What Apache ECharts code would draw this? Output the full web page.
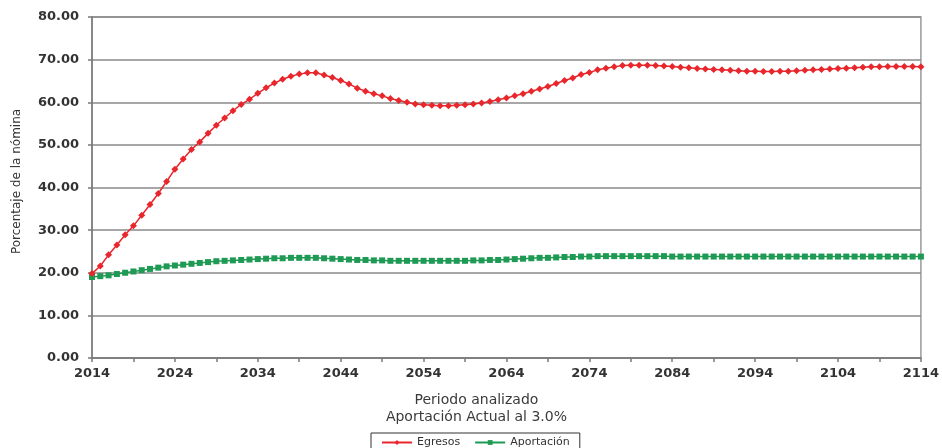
<!DOCTYPE html>
<html>
<head>
<meta charset="utf-8">
<script src="https://cdn.jsdelivr.net/npm/echarts@6/dist/echarts.min.js"></script>
<style>html,body{margin:0;padding:0;background:#fff;}#c{width:942px;height:448px;}</style>
</head>
<body>
<div id="c"></div>
<script>
// Years 2014..2114
const years = [];
for (let y = 2014; y <= 2114; y++) years.push(String(y));

const egresos = [
  19.8, 21.6, 24.2, 26.5, 28.9, 31.0, 33.5, 36.0, 38.6, 41.4,
  44.3, 46.7, 48.9, 50.7, 52.7, 54.6, 56.3, 58.0, 59.5, 60.7,
  62.1, 63.4, 64.5, 65.4, 66.1, 66.6, 66.9, 66.9, 66.4, 65.8,
  65.1, 64.3, 63.3, 62.6, 62.0, 61.5, 60.9, 60.4, 60.0, 59.6,
  59.4, 59.3, 59.2, 59.2, 59.3, 59.4, 59.6, 59.8, 60.2, 60.6,
  61.0, 61.5, 62.0, 62.6, 63.1, 63.7, 64.4, 65.1, 65.7, 66.5,
  67.0, 67.6, 68.0, 68.3, 68.6, 68.7, 68.7, 68.7, 68.6, 68.5,
  68.4, 68.2, 68.1, 67.9, 67.8, 67.7, 67.6, 67.5, 67.4, 67.3,
  67.3, 67.2, 67.2, 67.3, 67.3, 67.4, 67.5, 67.6, 67.7, 67.8,
  67.9, 68.0, 68.1, 68.2, 68.3, 68.3, 68.4, 68.4, 68.4, 68.4,
  68.3
];

const aportacion = [
  19.0, 19.2, 19.4, 19.7, 20.0, 20.3, 20.6, 20.9, 21.2, 21.5,
  21.7, 21.9, 22.1, 22.3, 22.5, 22.7, 22.8, 22.9, 23.0, 23.1,
  23.2, 23.3, 23.4, 23.4, 23.5, 23.5, 23.5, 23.5, 23.4, 23.3,
  23.2, 23.1, 23.0, 23.0, 22.9, 22.9, 22.8, 22.8, 22.8, 22.8,
  22.8, 22.8, 22.8, 22.8, 22.8, 22.8, 22.9, 22.9, 23.0, 23.0,
  23.1, 23.2, 23.3, 23.4, 23.5, 23.5, 23.6, 23.7, 23.7, 23.8,
  23.8, 23.9, 23.9, 23.9, 23.9, 23.9, 23.9, 23.9, 23.9, 23.9,
  23.8, 23.8, 23.8, 23.8, 23.8, 23.8, 23.8, 23.8, 23.8, 23.8,
  23.8, 23.8, 23.8, 23.8, 23.8, 23.8, 23.8, 23.8, 23.8, 23.8,
  23.8, 23.8, 23.8, 23.8, 23.8, 23.8, 23.8, 23.8, 23.8, 23.8,
  23.8
];

const seriesNames = ['Egresos', 'Aportación'];
const yAxisTitle = 'Porcentaje de la nómina';
const xAxisTitle = 'Periodo analizado\nAportación Actual al 3.0%';

const chart = echarts.init(document.getElementById('c'), null, {renderer: 'canvas'});
const font = 'DejaVu Sans, Liberation Sans, sans-serif';
chart.setOption({
  animation: false,
  grid: {
    left: 92, right: 20, top: 17, bottom: 90,
    show: true, borderColor: '#9a9a9a', borderWidth: 1.5, backgroundColor: 'transparent'
  },
  legend: {
    data: seriesNames,
    left: 371, top: 433,
    orient: 'horizontal',
    borderColor: '#333', borderWidth: 1,
    padding: [4, 10, 6, 10],
    itemGap: 14, itemWidth: 30, itemHeight: 6,
    textStyle: {fontFamily: font, fontSize: 11, color: '#333'}
  },
  xAxis: {
    type: 'category',
    data: years,
    boundaryGap: false,
    name: xAxisTitle,
    nameLocation: 'middle',
    nameGap: 34,
    nameTextStyle: {fontFamily: font, fontSize: 14, color: '#3a3a3a', lineHeight: 17, padding: [0, 60, 0, 0]},
    axisLine: {lineStyle: {color: '#7a7a7a', width: 1.5}},
    axisTick: {show: true, interval: 4, length: 4, lineStyle: {color: '#7a7a7a', width: 1.5}},
    axisLabel: {interval: 9, margin: 9, fontFamily: font, fontSize: 13, fontWeight: 'bold', color: '#333'},
    splitLine: {show: false}
  },
  yAxis: {
    type: 'value',
    min: 0, max: 80, interval: 10,
    name: yAxisTitle,
    nameLocation: 'middle',
    nameGap: 69,
    nameTextStyle: {fontFamily: font, fontSize: 12, color: '#333', padding: [0, 0, 0, 12]},
    axisLine: {show: true, lineStyle: {color: '#7a7a7a', width: 1.5}},
    axisTick: {show: true, length: 4, lineStyle: {color: '#7a7a7a', width: 1.5}},
    axisLabel: {margin: 13, fontFamily: font, fontSize: 13, fontWeight: 'bold', color: '#333',
      formatter: v => v.toFixed(2)},
    splitLine: {show: true, lineStyle: {color: '#8a8a8a', width: 1.5}}
  },
  series: [
    {
      name: seriesNames[0], type: 'line', data: egresos,
      symbol: 'diamond', symbolSize: 7, showAllSymbol: true,
      lineStyle: {color: '#e8262c', width: 1.5},
      itemStyle: {color: '#e8262c'},
      z: 3
    },
    {
      name: seriesNames[1], type: 'line', data: aportacion,
      symbol: 'rect', symbolSize: 6, showAllSymbol: true,
      lineStyle: {color: '#1e9a55', width: 1.5},
      itemStyle: {color: '#1e9a55'},
      z: 2
    }
  ]
});
</script>
</body>
</html>
